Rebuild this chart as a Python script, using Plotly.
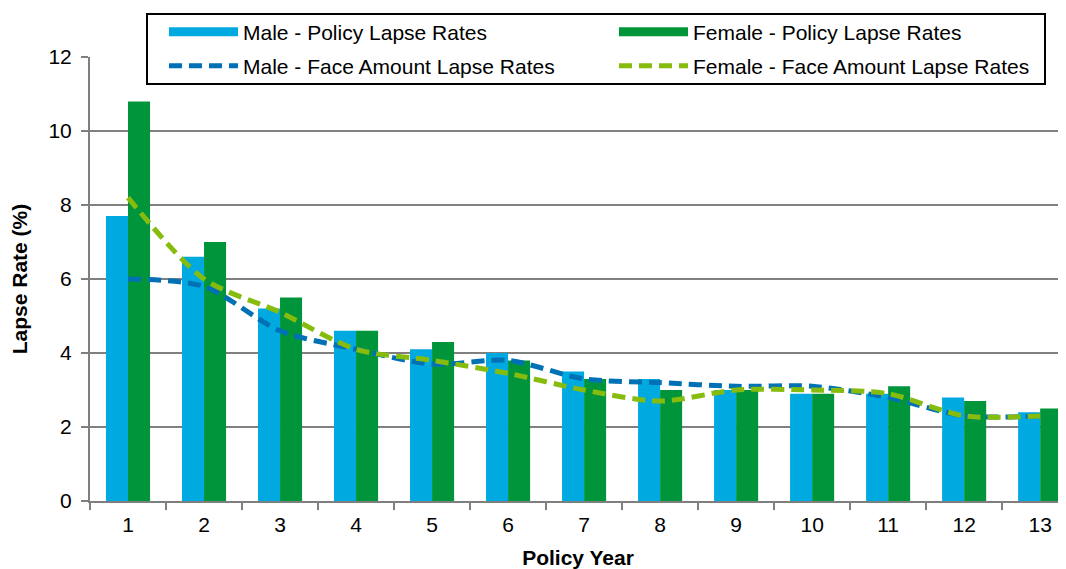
import plotly.graph_objects as go

years = [str(i) for i in range(1, 14)]
male_policy = [7.7, 6.6, 5.2, 4.6, 4.1, 4.0, 3.5, 3.3, 3.0, 2.9, 2.9, 2.8, 2.4]
female_policy = [10.8, 7.0, 5.5, 4.6, 4.3, 3.8, 3.3, 3.0, 3.0, 2.9, 3.1, 2.7, 2.5]
male_face = [6.0, 5.8, 4.6, 4.1, 3.7, 3.8, 3.3, 3.2, 3.1, 3.1, 2.8, 2.3, 2.3]
female_face = [8.2, 6.0, 5.1, 4.1, 3.8, 3.45, 3.0, 2.7, 3.0, 3.0, 2.9, 2.3, 2.3]

C_MALE_BAR = "#00A9DF"
C_FEMALE_BAR = "#00953A"
C_MALE_LINE = "#0071B5"
C_FEMALE_LINE = "#86BC0D"
FONT = "Liberation Sans, Arial, sans-serif"
DASH = "13px,7px"

fig = go.Figure()
fig.add_trace(go.Bar(x=years, y=male_policy, name="Male - Policy Lapse Rates",
                     marker=dict(color=C_MALE_BAR, line=dict(width=0)), showlegend=False))
fig.add_trace(go.Bar(x=years, y=female_policy, name="Female - Policy Lapse Rates",
                     marker=dict(color=C_FEMALE_BAR, line=dict(width=0)), showlegend=False))
fig.add_trace(go.Scatter(x=years, y=male_face, mode="lines", name="Male - Face Amount Lapse Rates",
                         line=dict(color=C_MALE_LINE, width=5, dash=DASH, shape="spline", smoothing=0.8),
                         showlegend=False))
fig.add_trace(go.Scatter(x=years, y=female_face, mode="lines", name="Female - Face Amount Lapse Rates",
                         line=dict(color=C_FEMALE_LINE, width=5, dash=DASH, shape="spline", smoothing=0.8),
                         showlegend=False))

# legend entries
fig.add_trace(go.Scatter(x=[None], y=[None], mode="lines", name="Male - Policy Lapse Rates",
                         line=dict(color=C_MALE_BAR, width=9), legend="legend"))
fig.add_trace(go.Scatter(x=[None], y=[None], mode="lines", name="Female - Policy Lapse Rates",
                         line=dict(color=C_FEMALE_BAR, width=9), legend="legend"))
fig.add_trace(go.Scatter(x=[None], y=[None], mode="lines", name="Male - Face Amount Lapse Rates",
                         line=dict(color=C_MALE_LINE, width=5, dash=DASH), legend="legend2"))
fig.add_trace(go.Scatter(x=[None], y=[None], mode="lines", name="Female - Face Amount Lapse Rates",
                         line=dict(color=C_FEMALE_LINE, width=5, dash=DASH), legend="legend2"))

OFF = 8  # page body margin
W, H = 1066 - OFF, 569 - OFF
L, R, T, B = 90 - OFF, 0, 57 - OFF, 68
pw = W - L - R
ph = H - T - B

def px(sx):
    return (sx - OFF - L) / pw

def py(sy):
    return (H - B - (sy - OFF)) / ph

leg_common = dict(orientation="h", xanchor="left", yanchor="middle",
                  bgcolor="rgba(0,0,0,0)", borderwidth=0,
                  font=dict(family=FONT, size=21, color="#000000"),
                  entrywidth=366, entrywidthmode="pixels", itemwidth=69,
                  traceorder="normal")

fig.update_layout(
    width=W, height=H,
    margin=dict(l=L, r=R, t=T, b=B, autoexpand=False),
    paper_bgcolor="white", plot_bgcolor="white",
    font=dict(family=FONT, size=21, color="#000000"),
    barmode="group", bargap=0.42, bargroupgap=0,
    legend=dict(x=px(164), y=py(32), **leg_common),
    legend2=dict(x=px(164), y=py(66), **leg_common),
    xaxis=dict(
        type="category", range=[-0.5, 12.34],
        showline=True, linecolor="#7F7F7F", linewidth=2,
        ticks="outside", tickson="boundaries", ticklen=7, tickwidth=2, tickcolor="#7F7F7F",
        showgrid=False, ticklabelstandoff=4,
        title=dict(text="<b>Policy Year</b>", font=dict(size=21), standoff=15),
    ),
    yaxis=dict(
        range=[0, 12], tickvals=[0, 2, 4, 6, 8, 10, 12],
        showline=True, linecolor="#7F7F7F", linewidth=2,
        ticks="outside", ticklen=7, tickwidth=2, tickcolor="#7F7F7F",
        showgrid=True, gridcolor="#808080", gridwidth=1.5,
        zeroline=False, ticklabelstandoff=5,
        title=dict(text="<b>Lapse Rate (%)</b>", font=dict(size=21), standoff=20),
    ),
    shapes=[dict(type="rect", xref="paper", yref="paper",
                 x0=px(147), x1=px(1045), y0=py(84), y1=py(14),
                 line=dict(color="#000000", width=2), fillcolor="white", layer="above")],
)

fig.write_html("out.html")
